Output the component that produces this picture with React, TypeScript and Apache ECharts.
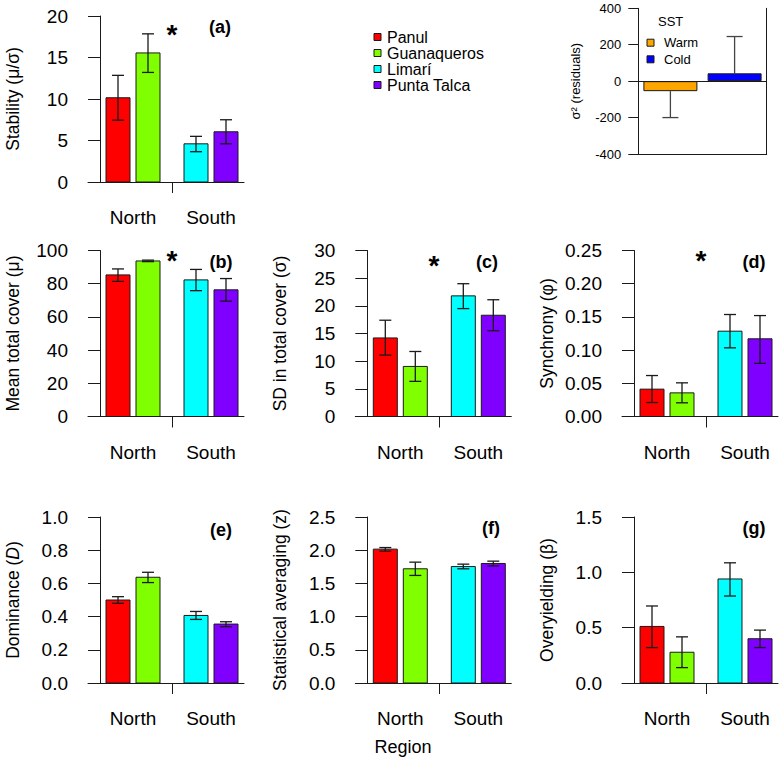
import React, { useEffect, useRef } from "react";
import * as echarts from "echarts";

// ---------------- data ----------------
const REGIONS = ["North", "South"];
const SITES = ["Panul", "Guanaqueros", "Limarí", "Punta Talca"];

const STABILITY_MEAN = [10.15, 15.55, 4.6, 6.05];
const STABILITY_LOW = [7.45, 13.2, 3.65, 4.6];
const STABILITY_HIGH = [12.85, 17.85, 5.5, 7.5];

const COVER_MEAN = [85.3, 93.7, 82.3, 76.3];
const COVER_LOW = [81.4, 93.3, 75.8, 69.5];
const COVER_HIGH = [88.9, 94.2, 88.6, 83.1];

const SD_MEAN = [14.2, 9.05, 21.8, 18.3];
const SD_LOW = [11.1, 6.35, 19.5, 15.5];
const SD_HIGH = [17.4, 11.75, 24.0, 21.1];

const SYNC_MEAN = [0.0412, 0.0356, 0.1285, 0.117];
const SYNC_LOW = [0.021, 0.0206, 0.1034, 0.08];
const SYNC_HIGH = [0.0617, 0.0507, 0.1536, 0.152];

const DOM_MEAN = [0.5, 0.637, 0.407, 0.355];
const DOM_LOW = [0.48, 0.605, 0.383, 0.339];
const DOM_HIGH = [0.52, 0.667, 0.431, 0.369];

const AVG_MEAN = [2.016, 1.72, 1.754, 1.8];
const AVG_LOW = [1.986, 1.62, 1.72, 1.764];
const AVG_HIGH = [2.04, 1.82, 1.79, 1.835];

const OVER_MEAN = [0.511, 0.278, 0.94, 0.4];
const OVER_LOW = [0.32, 0.139, 0.786, 0.32];
const OVER_HIGH = [0.696, 0.417, 1.086, 0.478];

const SST_LEVELS = ["Warm", "Cold"];
const SST_RESID = [-55, 43];
const SST_ERR_END = [-200, 245];

// ---------------- styles / layout ----------------
const SITE_COLORS = ["#ff0000", "#80ff00", "#00ffff", "#8000ff"];
const SST_COLORS = ["#ffa500", "#0000ff"];
const FONT = "'Liberation Sans', Arial, Helvetica, sans-serif";
const INK = "#1a1a1a";

// bar slots in bar-width units on the x value axis
const SLOTS = [
  [0.25, 1.25],
  [1.5, 2.5],
  [3.5, 4.5],
  [4.75, 5.75],
];
const DIVIDER = 3;
const REGION_POS = [
  (SLOTS[0][0] + SLOTS[1][1]) / 2,
  (SLOTS[2][0] + SLOTS[3][1]) / 2,
];

const PANELS = [
  { tag: "(a)", name: "Stability (μ/σ)", mean: STABILITY_MEAN, low: STABILITY_LOW, high: STABILITY_HIGH, max: 20, interval: 5, dec: 0, left: 88, top: 16, star: [172, 34], tagPos: [220, 27] },
  { tag: "(b)", name: "Mean total cover (μ)", mean: COVER_MEAN, low: COVER_LOW, high: COVER_HIGH, max: 100, interval: 20, dec: 0, left: 88, top: 250.5, star: [172, 260], tagPos: [221, 262] },
  { tag: "(c)", name: "SD in total cover (σ)", mean: SD_MEAN, low: SD_LOW, high: SD_HIGH, max: 30, interval: 5, dec: 0, left: 355.3, top: 250.5, star: [434, 265], tagPos: [487, 262] },
  { tag: "(d)", name: "Synchrony (φ)", mean: SYNC_MEAN, low: SYNC_LOW, high: SYNC_HIGH, max: 0.25, interval: 0.05, dec: 2, left: 622, top: 250.5, star: [701, 260], tagPos: [754, 262] },
  { tag: "(e)", name: "Dominance ({i|D})", mean: DOM_MEAN, low: DOM_LOW, high: DOM_HIGH, max: 1.0, interval: 0.2, dec: 1, left: 88, top: 517, star: null, tagPos: [221, 530] },
  { tag: "(f)", name: "Statistical averaging (z)", mean: AVG_MEAN, low: AVG_LOW, high: AVG_HIGH, max: 2.5, interval: 0.5, dec: 1, left: 355.3, top: 517, star: null, tagPos: [491, 528] },
  { tag: "(g)", name: "Overyielding (β)", mean: OVER_MEAN, low: OVER_LOW, high: OVER_HIGH, max: 1.5, interval: 0.5, dec: 1, left: 622, top: 517, star: null, tagPos: [754, 528] },
];

const X_MIN = -0.5;
const X_MAX = 6;
const UNIT = 24;
const PANEL_H = 166;

function buildOption() {
  const grid: any[] = [];
  const xAxis: any[] = [];
  const yAxis: any[] = [];
  const series: any[] = [];
  const graphic: any[] = [];

  PANELS.forEach((p, i) => {
    grid.push({ left: p.left, top: p.top, width: (X_MAX - X_MIN) * UNIT, height: PANEL_H, containLabel: false });
    xAxis.push({
      type: "value",
      gridIndex: i,
      min: X_MIN,
      max: X_MAX,
      axisLine: { show: true, onZero: false, lineStyle: { color: INK, width: 1 } },
      axisTick: { show: true, customValues: [DIVIDER], length: 11, lineStyle: { color: INK, width: 1 } },
      axisLabel: {
        show: true,
        customValues: REGION_POS,
        formatter: (v: number) => (v < DIVIDER ? REGIONS[0] : REGIONS[1]),
        margin: 26,
        fontSize: 19,
        color: "#000",
        fontFamily: FONT,
      },
      splitLine: { show: false },
    });
    yAxis.push({
      type: "value",
      gridIndex: i,
      min: 0,
      max: p.max,
      interval: p.interval,
      axisLine: { show: true, onZero: true, lineStyle: { color: INK, width: 1 } },
      axisTick: { show: true, length: 12, lineStyle: { color: INK, width: 1 } },
      axisLabel: {
        margin: 20,
        fontSize: 19,
        color: "#000",
        fontFamily: FONT,
        formatter: (v: number) => v.toFixed(p.dec),
      },
      splitLine: { show: false },
      name: p.name,
      nameLocation: "middle",
      nameGap: 66,
      nameTextStyle: {
        fontSize: 17.5,
        color: "#000",
        fontFamily: FONT,
        rich: { i: { fontStyle: "italic", fontSize: 17.5, fontFamily: FONT, color: "#000" } },
      },
    });
    const data = p.mean.map((m, k) => [SLOTS[k][0], SLOTS[k][1], m, p.low[k], p.high[k], k]);
    series.push({
      type: "custom",
      xAxisIndex: i,
      yAxisIndex: i,
      clip: false,
      encode: { x: [0, 1], y: [2, 3, 4] },
      data,
      renderItem: (params: any, api: any) => {
        const x0 = api.value(0);
        const x1 = api.value(1);
        const m = api.value(2);
        const lo = api.value(3);
        const hi = api.value(4);
        const ci = api.value(5);
        const tl = api.coord([x0, m]);
        const br = api.coord([x1, 0]);
        const xc = (x0 + x1) / 2;
        const pl = api.coord([xc, lo]);
        const ph = api.coord([xc, hi]);
        const cw = 6;
        return {
          type: "group",
          children: [
            {
              type: "rect",
              shape: { x: tl[0], y: tl[1], width: br[0] - tl[0], height: br[1] - tl[1] },
              style: { fill: SITE_COLORS[ci], stroke: INK, lineWidth: 1 },
            },
            { type: "line", shape: { x1: pl[0], y1: pl[1], x2: ph[0], y2: ph[1] }, style: { stroke: INK, lineWidth: 1.3 } },
            { type: "line", shape: { x1: pl[0] - cw, y1: pl[1], x2: pl[0] + cw, y2: pl[1] }, style: { stroke: INK, lineWidth: 1.3 } },
            { type: "line", shape: { x1: ph[0] - cw, y1: ph[1], x2: ph[0] + cw, y2: ph[1] }, style: { stroke: INK, lineWidth: 1.3 } },
          ],
        };
      },
    });
    graphic.push({
      type: "text",
      x: p.tagPos[0],
      y: p.tagPos[1],
      style: { text: p.tag, fontSize: 18, fontWeight: "bold", fontFamily: FONT, fill: "#000", align: "center", verticalAlign: "middle" },
    });
    if (p.star) {
      graphic.push({
        type: "text",
        x: p.star[0],
        y: p.star[1],
        style: { text: "*", fontSize: 28, fontWeight: "bold", fontFamily: FONT, fill: "#000", align: "center", verticalAlign: "middle" },
      });
    }
  });

  // ---- SST inset ----
  const gi = PANELS.length;
  grid.push({ left: 638.3, top: 8.3, width: 128.4, height: 145.7, containLabel: false });
  xAxis.push({
    type: "category",
    gridIndex: gi,
    data: SST_LEVELS,
    position: "bottom",
    axisLine: { show: true, onZero: false, lineStyle: { color: INK, width: 1 } },
    axisTick: { show: false },
    axisLabel: { show: false },
    splitLine: { show: false },
  });
  yAxis.push({
    type: "value",
    gridIndex: gi,
    min: -400,
    max: 400,
    interval: 200,
    position: "left",
    axisLine: { show: true, onZero: false, lineStyle: { color: INK, width: 1 } },
    axisTick: { show: true, length: 10, lineStyle: { color: INK, width: 1 } },
    axisLabel: { margin: 17, fontSize: 13, color: "#000", fontFamily: FONT },
    splitLine: { show: false },
    name: "σ² (residuals)",
    nameLocation: "middle",
    nameGap: 56,
    nameTextStyle: { fontSize: 13, color: "#000", fontFamily: FONT },
  });
  yAxis.push({
    type: "value",
    gridIndex: gi,
    min: -400,
    max: 400,
    interval: 200,
    position: "right",
    axisLine: { show: true, onZero: false, lineStyle: { color: INK, width: 1 } },
    axisTick: { show: false },
    axisLabel: { show: false },
    splitLine: { show: false },
  });
  series.push({
    type: "bar",
    xAxisIndex: gi,
    yAxisIndex: gi,
    barWidth: 54,
    data: SST_RESID.map((v, k) => ({ value: v, itemStyle: { color: SST_COLORS[k], borderColor: INK, borderWidth: 1 } })),
    markLine: {
      silent: true,
      symbol: "none",
      label: { show: false },
      lineStyle: { color: INK, width: 1, type: "solid" },
      data: [{ yAxis: 0 }],
    },
  });
  series.push({
    type: "custom",
    xAxisIndex: gi,
    yAxisIndex: gi,
    clip: false,
    data: SST_RESID.map((v, k) => [k, v, SST_ERR_END[k]]),
    encode: { x: 0, y: [1, 2] },
    renderItem: (params: any, api: any) => {
      const c = api.value(0);
      const a = api.coord([c, api.value(1)]);
      const b = api.coord([c, api.value(2)]);
      return {
        type: "group",
        children: [
          { type: "line", shape: { x1: a[0], y1: a[1], x2: b[0], y2: b[1] }, style: { stroke: "#444", lineWidth: 1.3 } },
          { type: "line", shape: { x1: b[0] - 8, y1: b[1], x2: b[0] + 8, y2: b[1] }, style: { stroke: "#444", lineWidth: 1.3 } },
        ],
      };
    },
  });

  // inset legend
  graphic.push({ type: "text", x: 658, y: 21, style: { text: "SST", fontSize: 13, fontFamily: FONT, fill: "#000", verticalAlign: "middle" } });
  SST_LEVELS.forEach((s, k) => {
    const cy = 42.7 + k * 16.6;
    graphic.push({ type: "rect", shape: { x: 647, y: cy - 3.5, width: 7, height: 7 }, style: { fill: SST_COLORS[k], stroke: INK, lineWidth: 1 } });
    graphic.push({ type: "text", x: 664, y: cy, style: { text: s, fontSize: 13, fontFamily: FONT, fill: "#000", verticalAlign: "middle" } });
  });

  // main legend
  SITES.forEach((s, k) => {
    const cy = 37 + k * 16;
    graphic.push({ type: "rect", shape: { x: 374, y: cy - 3.5, width: 7, height: 7 }, style: { fill: SITE_COLORS[k], stroke: INK, lineWidth: 1 } });
    graphic.push({ type: "text", x: 387, y: cy, style: { text: s, fontSize: 16, fontFamily: FONT, fill: "#000", verticalAlign: "middle" } });
  });

  // x title
  graphic.push({ type: "text", x: 403, y: 747, style: { text: "Region", fontSize: 18, fontFamily: FONT, fill: "#000", align: "center", verticalAlign: "middle" } });

  return {
    animation: false,
    backgroundColor: "#ffffff",
    textStyle: { fontFamily: FONT },
    grid,
    xAxis,
    yAxis,
    series,
    graphic,
  };
}

export default function App() {
  const ref = useRef<HTMLDivElement>(null);
  useEffect(() => {
    if (!ref.current) return;
    const chart = echarts.init(ref.current, undefined, { renderer: "svg" });
    chart.setOption(buildOption() as any);
    return () => chart.dispose();
  }, []);
  return (
    <div
      ref={ref}
      style={{ position: "fixed", left: 0, top: 0, width: 781, height: 761, background: "#fff" }}
    />
  );
}
